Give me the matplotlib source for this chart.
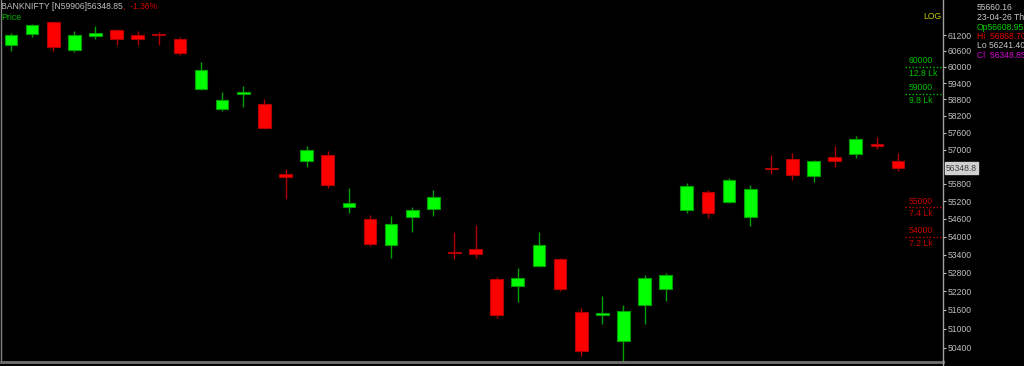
import matplotlib
matplotlib.use("Agg")
import matplotlib.pyplot as plt
from matplotlib.ticker import FixedLocator, FixedFormatter, NullLocator

# ---------------- data ----------------
opens = [60820, 61250, 61685, 60633, 61151, 61402, 61189, 61225, 61060, 59183,
         58442, 59000, 58645, 56141, 56585, 56807, 55002, 54603, 53710, 54651,
         54924, 53470, 53576, 52588, 52379, 53014, 53255, 51540, 51435, 50621,
         51745, 52270, 54900, 55528, 55183, 54651, 56350, 56676, 56071, 56726,
         56831, 57185, 56608.95]
highs = [61265, 61620, 61700, 61364, 61544, 61441, 61353, 61303, 61113, 60194,
         59073, 59293, 58816, 56304, 57125, 56937, 55655, 54729, 54695, 55012,
         55575, 54165, 54391, 52672, 52968, 54165, 53297, 51649, 52045, 51755,
         52728, 52793, 55817, 55596, 56001, 55768, 56807, 56867, 56630, 57114,
         57491, 57445, 56868.70]
lows = [60584, 61113, 60606, 60569, 61037, 60811, 60833, 60833, 60457, 59157,
        58391, 58525, 57720, 55286, 56395, 55655, 54788, 53686, 53288, 54145,
        54705, 53255, 53297, 51349, 51842, 53000, 52216, 50133, 51159, 49940,
        51139, 51884, 54808, 54637, 55149, 54357, 56141, 55929, 55851, 56374,
        56712, 57018, 56241.40]
closes = [61190, 61582, 60735, 61189, 61265, 61037, 61037, 61210, 60520, 59874,
          58779, 59073, 57767, 56026, 56972, 55748, 55128, 53763, 54435, 54900,
          55334, 53460, 53430, 51435, 52620, 53730, 52262, 50288, 51489, 51562,
          52640, 52718, 55713, 54808, 55921, 55620, 56304, 56095, 56585, 56596,
          57374, 57125, 56348.85]

tick_values = [61200, 60600, 60000, 59400, 58800, 58200, 57600, 57000,
               55800, 55200, 54600, 54000, 53400, 52800, 52200, 51600, 51000, 50400]
tick_labels = [str(v) for v in tick_values]

call_strikes = [60000, 59000]
call_oi = ["12.8 Lk", "9.8 Lk"]
put_strikes = [55000, 54000]
put_oi = ["7.4 Lk", "7.2 Lk"]

title_main = "BANKNIFTY [N59906]56348.85"
title_change = ",  -1.36%"
last_price_label = "56348.8"
info_lines = [("55660.16", "#c8c8c8"),
              ("23-04-26 Th", "#c8c8c8"),
              ("Op56608.95", "#00d000"),
              ("Hi  56868.70", "#e00000"),
              ("Lo 56241.40", "#c8c8c8"),
              ("Cl  56348.85", "#d000d0")]

# ---------------- style ----------------
FONT = "Liberation Sans"
FS = 6.2
W, H = 1024, 366

fig = plt.figure(figsize=(W / 100, H / 100), dpi=100, facecolor="black")
ax = fig.add_axes([1 / W, 4 / H, 942 / W, 362 / H], facecolor="black")


def fx(px):
    return px / W


def fy(py):
    return 1 - py / H


up_fill, up_edge = "#00ff00", "#00a000"
dn_fill, dn_edge = "#ff0000", "#b00000"

xs = list(range(len(opens)))
for i, o, h, l, c in zip(xs, opens, highs, lows, closes):
    up = c >= o
    edge = up_edge if up else dn_edge
    fill = up_fill if up else dn_fill
    ax.vlines(i, l, h, color=edge, linewidth=1.0, zorder=2)
    ax.bar(i, abs(c - o), bottom=min(o, c), width=0.6, color=fill,
           edgecolor=edge, linewidth=0.8, zorder=3)

ax.set_yscale("log")
ax.set_ylim(49955, 62545)
ax.set_xlim(-0.47, 44.13)

ax.xaxis.set_major_locator(NullLocator())
ax.xaxis.set_minor_locator(NullLocator())
ax.yaxis.set_major_locator(FixedLocator(tick_values))
ax.yaxis.set_major_formatter(FixedFormatter(tick_labels))
ax.yaxis.set_minor_locator(NullLocator())
ax.yaxis.tick_right()
ax.tick_params(axis="y", colors="#c0c0c0", labelsize=FS, length=2.5, width=0.8,
               pad=1, direction="out")
for lab in ax.get_yticklabels():
    lab.set_fontfamily(FONT)

ax.spines["top"].set_visible(False)
ax.spines["left"].set_color("#808080")
ax.spines["left"].set_linewidth(1.0)
ax.spines["bottom"].set_color("#707070")
ax.spines["bottom"].set_linewidth(2.0)
ax.spines["right"].set_color("#a0a0a0")
ax.spines["right"].set_linewidth(1.0)
# right axis line continues to the bottom edge
fig.add_artist(plt.Line2D([fx(943.3), fx(943.3)], [0, fy(360)], color="#a0a0a0",
                          linewidth=1.0))

# option OI levels
ytr = ax.get_yaxis_transform()
x0 = (905 - 1) / 942
for strikes, ois, col in [(call_strikes, call_oi, "#00c000"),
                          (put_strikes, put_oi, "#c80000")]:
    for s, oi in zip(strikes, ois):
        ax.plot([x0, 1.0], [s, s], transform=ytr, color=col, linestyle=(0, (1, 1.5)),
                linewidth=1.0, zorder=4, clip_on=False)
        ax.annotate(str(s), xy=(x0, s), xycoords=ytr, xytext=(4, 6),
                    textcoords="offset pixels", color=col, fontsize=FS,
                    family=FONT, va="center", ha="left")
        ax.annotate(oi, xy=(x0, s), xycoords=ytr, xytext=(4, -6.5),
                    textcoords="offset pixels", color=col, fontsize=FS,
                    family=FONT, va="center", ha="left")

# last price box
ax.annotate(last_price_label, xy=(1.0, closes[-1]), xycoords=ytr, xytext=(3, 0),
            textcoords="offset pixels", color="#404040", fontsize=FS, family=FONT,
            va="center", ha="left",
            bbox=dict(boxstyle="square,pad=0.15", facecolor="#d0d0d0",
                      edgecolor="#d0d0d0"))

# header texts
t_main = fig.text(fx(1), fy(6.5), title_main, color="#c0c0c0", fontsize=FS,
                  family=FONT, va="center", ha="left")
fig.canvas.draw()
fig.text(0, 0, "")
ax.annotate(title_change, xy=(1.0, 0.5), xycoords=t_main, xytext=(0, 0),
            textcoords="offset pixels", color="#d00000", fontsize=FS,
            family=FONT, va="center", ha="left", annotation_clip=False)
fig.text(fx(1), fy(17), "Price", color="#00b000", fontsize=FS, family=FONT,
         va="center", ha="left")
fig.text(fx(941), fy(16.5), "LOG", color="#c8c800", fontsize=FS, family=FONT,
         va="center", ha="right")

info_y = [7, 17, 27, 36.5, 46, 55.5]
for (txt, col), yy in zip(info_lines, info_y):
    fig.text(fx(977), fy(yy), txt, color=col, fontsize=FS, family=FONT,
             va="center", ha="left")

fig.savefig("out.png", dpi=100, facecolor="black")
